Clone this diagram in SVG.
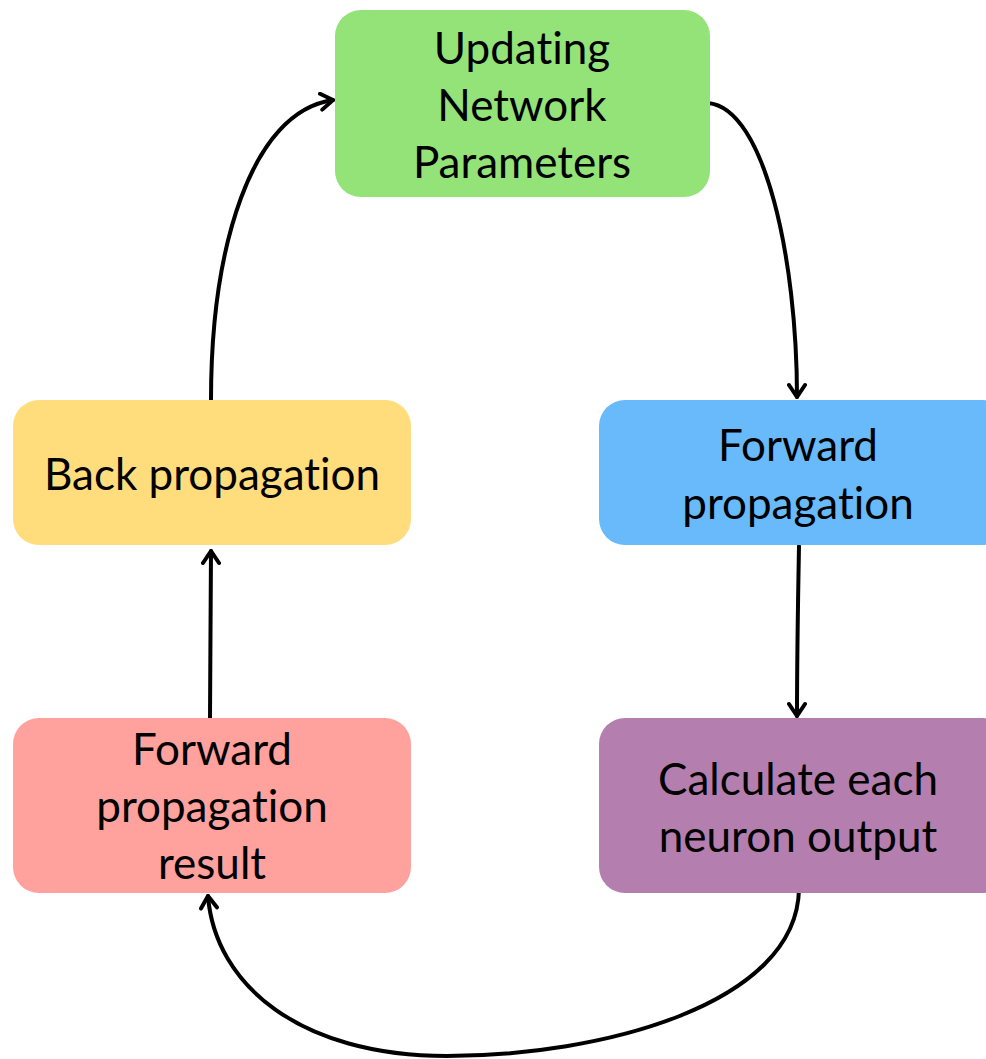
<svg xmlns="http://www.w3.org/2000/svg" width="986" height="1059" viewBox="0 0 986 1059">
  <defs>
    <style>
      .box { stroke: none; }
      .lbl { font-family: Lato, "Liberation Sans", sans-serif; font-size: 44px; fill: #000; text-anchor: middle; dominant-baseline: central; font-variant-ligatures: none; }
      .edge { fill: none; stroke: #000; stroke-width: 4; stroke-linecap: round; }
    </style>
    <marker id="arrow" viewBox="0 0 20 20" refX="16" refY="10" markerWidth="20" markerHeight="20" markerUnits="userSpaceOnUse" orient="auto">
      <path d="M4,2 L16,10 L4,18" fill="none" stroke="#000" stroke-width="4" stroke-linecap="round" stroke-linejoin="round"/>
    </marker>
  </defs>
  <rect width="986" height="1059" fill="#fff"/>

  <g id="connectors">
    <path class="edge" d="M708,103 C765,108 797,260 797,397" marker-end="url(#arrow)"/>
    <path class="edge" d="M799,546 C798,600 797,660 797,716" marker-end="url(#arrow)"/>
    <path class="edge" d="M799,889 C797,1005 600,1056 447,1056 C300,1056 215,985 208,896" marker-end="url(#arrow)"/>
    <path class="edge" d="M210,718 C210,660 211,610 211,551" marker-end="url(#arrow)"/>
    <path class="edge" d="M211,400 C211,250 250,112 333,100" marker-end="url(#arrow)"/>
  </g>

  <g id="node-update">
    <rect class="box" x="335" y="10" width="375" height="187" rx="26" fill="#93E379"/>
    <text class="lbl" x="522" y="47">Updating</text>
    <text class="lbl" x="522" y="104">Network</text>
    <text class="lbl" x="522" y="161">Parameters</text>
  </g>

  <g id="node-back">
    <rect class="box" x="13" y="400" width="398" height="145" rx="26" fill="#FFDD7D"/>
    <text class="lbl" x="212" y="473">Back propagation</text>
  </g>

  <g id="node-forward">
    <rect class="box" x="599" y="400" width="410" height="145" rx="26" fill="#69BAFB"/>
    <text class="lbl" x="798" y="444">Forward</text>
    <text class="lbl" x="798" y="502">propagation</text>
  </g>

  <g id="node-result">
    <rect class="box" x="13" y="718" width="398" height="175" rx="26" fill="#FFA19C"/>
    <text class="lbl" x="212" y="748">Forward</text>
    <text class="lbl" x="212" y="805">propagation</text>
    <text class="lbl" x="212" y="862">result</text>
  </g>

  <g id="node-calc">
    <rect class="box" x="599" y="718" width="410" height="175" rx="26" fill="#B47FAE"/>
    <text class="lbl" x="798" y="778">Calculate each</text>
    <text class="lbl" x="798" y="835">neuron output</text>
  </g>
</svg>
